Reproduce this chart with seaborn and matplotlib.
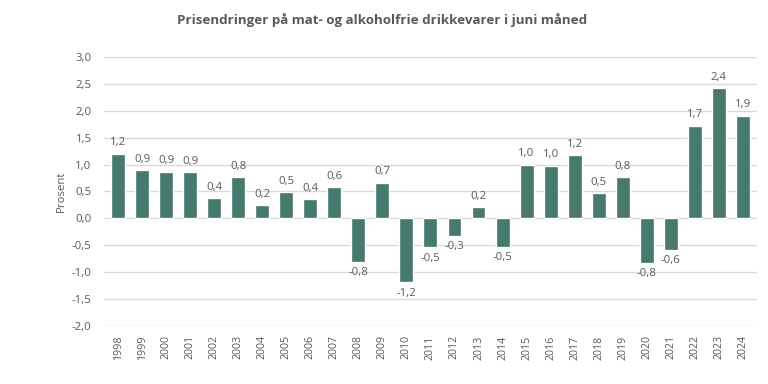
import pandas as pd
import numpy as np
import matplotlib.pyplot as plt
import seaborn as sns

# values
years = [str(y) for y in range(1998, 2025)]
values = [1.20, 0.89, 0.87, 0.86, 0.38, 0.76, 0.24, 0.49, 0.36, 0.58,
          -0.81, 0.66, -1.19, -0.54, -0.33, 0.21, -0.53, 1.00, 0.98, 1.17,
          0.47, 0.76, -0.83, -0.58, 1.72, 2.42, 1.91]
yticks = [-2.0, -1.5, -1.0, -0.5, 0.0, 0.5, 1.0, 1.5, 2.0, 2.5, 3.0]

data = pd.DataFrame({"Year": years, "Change": values})

sns.set_style("white")
plt.rcParams['font.family'] = ['Open Sans', 'DejaVu Sans']

grey = "#595959"
fig = plt.figure(figsize=(8, 4), dpi=96)
ax = fig.add_axes([0.135, 0.151, 0.851, 0.701])

sns.barplot(data=data, x="Year", y="Change", color="#467A6E",
            saturation=1, width=0.58, ax=ax, zorder=3)

labels = [f"{v:.1f}".replace(".", ",") for v in values]
ax.bar_label(ax.containers[0], labels=labels, padding=4,
             fontsize=8.5, color=grey)

ax.set_ylim(-2.0, 3.0)
ax.set_yticks(yticks)
ax.set_yticklabels([f"{t:.1f}".replace(".", ",") for t in yticks])
ax.grid(axis="y", color="#d9d9d9", linewidth=1, zorder=0)
for s in ax.spines.values():
    s.set_visible(False)
ax.tick_params(axis="y", labelsize=8.5, colors=grey, length=0, pad=9)
ax.tick_params(axis="x", labelsize=8, colors=grey, length=0, rotation=90, pad=7)
ax.set_xlim(-0.6, len(years) - 0.4)

ax.set_xlabel("")
ax.set_ylabel("Prosent", fontsize=8.5, color=grey, labelpad=4)

fig.suptitle("Prisendringer på mat- og alkoholfrie drikkevarer i juni måned",
             x=0.498, y=0.965, fontsize=10, fontweight="bold", color=grey)

plt.savefig("out.png", dpi=96)
